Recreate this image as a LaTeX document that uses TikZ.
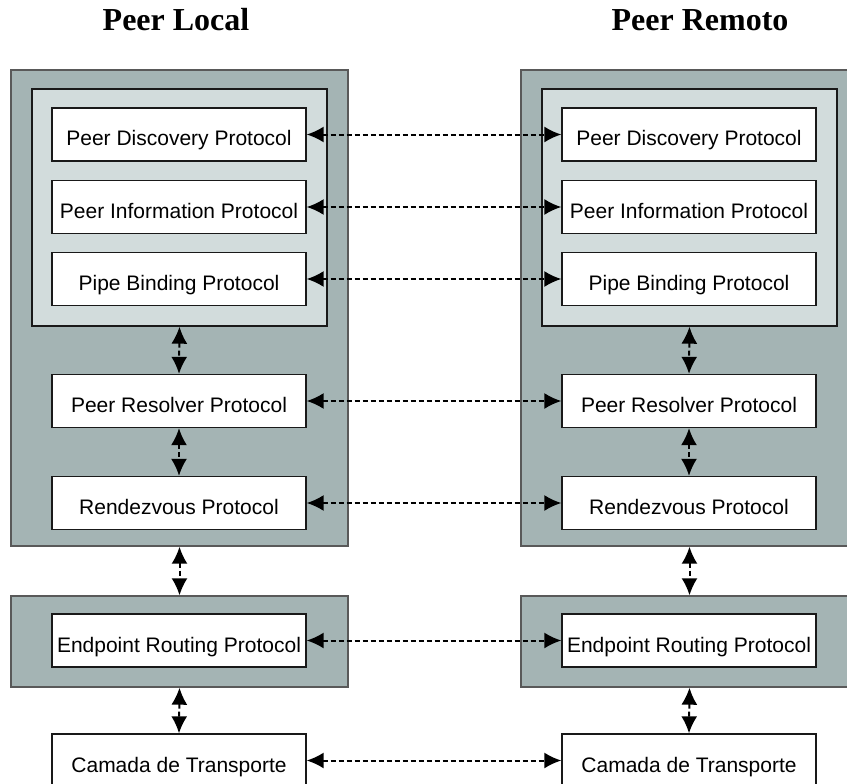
\documentclass[tikz,border=0pt]{standalone}
\usepackage{fontspec}
\setmainfont{Liberation Sans}
\newfontfamily\titulo{Liberation Serif}
\usetikzlibrary{arrows.meta}

\definecolor{cinza}{HTML}{A4B4B4}
\definecolor{cinzaclaro}{HTML}{D2DCDC}
\tikzset{
  camada/.style={draw=black!90, fill=white, line width=1.3pt, minimum width=254pt,
    minimum height=53pt, inner sep=0pt, text height=23pt, text depth=0pt,
    font=\fontsize{21}{25}\selectfont},
  externo/.style={draw=black!65, fill=cinza, line width=1.4pt, inner sep=0pt},
  interno/.style={draw=black!90, fill=cinzaclaro, line width=1.4pt, inner sep=0pt},
  troca/.style={>={Latex[length=17pt,width=16pt]}, <->,
    dash pattern=on 5pt off 3pt, line width=2pt},
  titulo/.style={anchor=base, font=\titulo\bfseries\fontsize{32}{36}\selectfont},
}

\begin{document}
\begin{tikzpicture}[x=1pt, y=-1pt]
    \useasboundingbox (0,0) rectangle (847,784);
    \node[titulo] (tl) at (176,31) {Peer Local};
    \node[titulo] (tr) at (700,31) {Peer Remoto};
    \foreach \s/\dx in {l/0, r/510} {
      \begin{scope}[xshift=\dx, name prefix=\s-]
        \node[externo, minimum width=337pt, minimum height=476pt] (ext) at (179.5,308) {};
        \node[interno, minimum width=295pt, minimum height=237pt] (int) at (179.5,207.5) {};
        \node[externo, minimum width=337pt, minimum height=91pt] (ext2) at (179.5,641.5) {};
        \node[camada] (pd) at (179,134.5) {Peer Discovery Protocol};
        \node[camada] (pi) at (179,207) {Peer Information Protocol};
        \node[camada] (pb) at (179,279) {Pipe Binding Protocol};
        \node[camada] (pr) at (179,401) {Peer Resolver Protocol};
        \node[camada] (rv) at (179,503) {Rendezvous Protocol};
        \node[camada] (ep) at (179,640.5) {Endpoint Routing Protocol};
        \node[camada] (ct) at (179,760.5) {Camada de Transporte};
        \draw[troca] (int.south) -- (pr.north);
        \draw[troca] (pr.south) -- (rv.north);
        \draw[troca] (ext.south) -- (ext2.north);
        \draw[troca] (ext2.south) -- (ct.north);
      \end{scope}
    }
    \foreach \n in {pd,pi,pb,pr,rv,ep,ct}
      \draw[troca] (l-\n.east) -- (r-\n.west);
\end{tikzpicture}
\end{document}
